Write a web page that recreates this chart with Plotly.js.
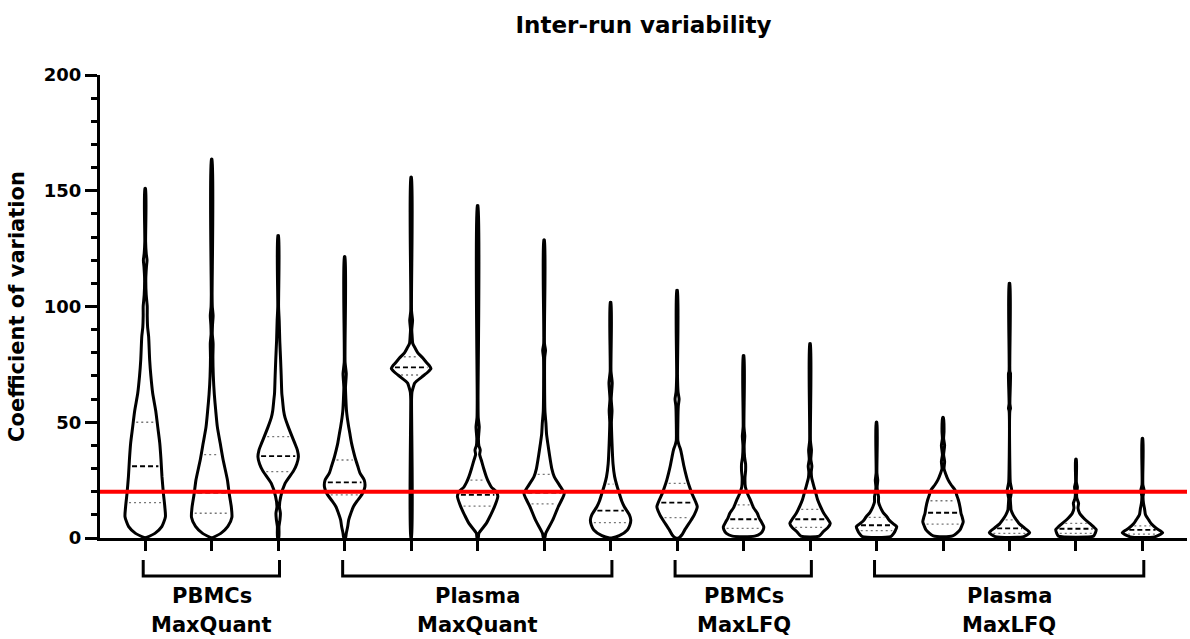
<!DOCTYPE html>
<html><head><meta charset="utf-8">
<script src="https://cdn.plot.ly/plotly-3.0.1.min.js"></script>
<style>html,body{margin:0;padding:0;background:#fff}#chart{width:1190px;height:639px}</style>
</head><body><div id="chart"></div>
<script>
// ---------- data ----------
const groupLine1 = ['PBMCs', 'Plasma', 'PBMCs', 'Plasma'];
const groupLine2 = ['MaxQuant', 'MaxQuant', 'MaxLFQ', 'MaxLFQ'];
const groupStart = [0, 3, 8, 11];
const groupEnd = [2, 7, 10, 15];
const thresholdCV = 20;

const cvMax    = [151, 163.6, 130.6, 121.5, 155.8, 143.6, 128.7, 101.8, 107, 78.8, 84, 50, 52, 110, 34, 43];
const cvQ1     = [15.3, 10.7, 28.7, 18.6, 70.4, 13.8, 14.7, 6.6, 8.8, 4.2, 4.6, 3.2, 6.0, 2.0, 2.0, 1.7];
const cvMedian = [31.0, 19.6, 35.4, 24.0, 73.7, 18.6, 19.6, 11.8, 15.3, 8.1, 8.1, 5.5, 10.9, 4.2, 4.0, 3.5];
const cvQ3     = [50.0, 36.0, 43.8, 33.7, 78.3, 25.0, 27.5, 23.3, 23.6, 14.3, 12.4, 8.9, 16.1, 7.8, 6.3, 5.2];

// density profile of each violin: CV levels and relative density (1 = widest)
const profileLevels = [
  [0,2,4.9,9.2,13.5,19.3,26.5,34,41,48,55,62.5,70,77,87,91,96,100,105,112,117,120,123,128],
  [0,2,5,9,13.5,19,25,34,41,48,55,62,70,78,84,88,92,96,100,105],
  [0,5,8,10.7,13.5,18,23.6,29,32,35,38,41,44,48,52,55,60,62.5,70,77,85,94,100],
  [0,2,5,7.8,10,13.5,16,19,22,25,28,31,34,38,41,45,48,52,55,60,65,71,76],
  [0,60,63,65,67,69.5,71.7,73.2,74.5,75.6,77.7,80,82,84,87,90,94,98],
  [0,2,6.3,10,12,15,18,20,22,24,26.5,30,33.7,36,38,40,43,48,52,60],
  [0,2,7.8,13.5,17,19.3,22,26.5,30,34,38,41,45,49.5,55,78,81,84],
  [0,1,3.5,5.5,7.8,10,13.5,16,19.3,23,26.5,32,41,50,55,60,67,72],
  [0,1.5,3.5,7.8,10,13.5,16,19.3,22,25,28,31,35,38,40,42,50,57,60,63,70],
  [0.8,2,3.5,4.9,7,8.5,10.7,13,16.4,19,22,26,29,32,35,40,44,48],
  [0.8,2.7,4.5,6.3,8.1,10.7,13.5,16.4,19.5,22,26,28.5,31,34,38,42],
  [0.6,2,3.2,4.9,6,7.5,9.2,11,13.5,15.5,17.9,20,22,25,28],
  [0.9,3.5,5,7,9,10.7,13,16.4,18.5,20.7,23,25,28,30,33,36,40,43,46],
  [0.6,2.3,4.2,6,7.8,10,12,14,17,20.7,24,30,55,56,58,71,72],
  [0.8,2,3.7,5,6.3,8,10.7,13,15,17,19,22,24],
  [0.5,2.3,4.2,6,7.8,10,12.8,15,18,20.7,23]
];
const profileDensity = [
  [0,0.48,0.82,1.0,0.97,0.9,0.83,0.78,0.72,0.62,0.52,0.37,0.28,0.22,0.17,0.12,0.1,0.1,0.05,0.03,0.06,0.09,0.05,0.02],
  [0,0.45,0.8,1.0,0.97,0.87,0.78,0.56,0.42,0.28,0.2,0.13,0.08,0.06,0.07,0.03,0.04,0.07,0.03,0.02],
  [0.03,0.04,0.09,0.11,0.06,0.13,0.34,0.76,0.92,1.0,0.95,0.82,0.68,0.5,0.34,0.27,0.21,0.18,0.15,0.12,0.08,0.05,0.02],
  [0.04,0.08,0.15,0.2,0.28,0.43,0.62,0.87,1.0,0.97,0.76,0.65,0.54,0.42,0.34,0.26,0.2,0.13,0.09,0.06,0.04,0.08,0.02],
  [0.02,0.02,0.04,0.1,0.18,0.52,0.83,0.98,0.9,0.78,0.58,0.33,0.2,0.08,0.05,0.03,0.07,0.02],
  [0.03,0.06,0.43,0.65,0.76,0.9,1.0,0.92,0.68,0.55,0.43,0.3,0.18,0.1,0.13,0.06,0.04,0.08,0.03,0.02],
  [0.03,0.08,0.43,0.7,0.9,1.0,0.82,0.5,0.38,0.3,0.23,0.18,0.12,0.09,0.04,0.03,0.07,0.02],
  [0.05,0.43,0.83,0.95,1.0,0.93,0.68,0.55,0.43,0.3,0.2,0.12,0.07,0.04,0.07,0.03,0.08,0.02],
  [0.08,0.25,0.38,0.7,0.85,1.0,0.9,0.73,0.62,0.51,0.42,0.34,0.25,0.18,0.1,0.04,0.04,0.06,0.1,0.05,0.02],
  [0.55,0.85,0.97,1.0,0.88,0.78,0.68,0.5,0.34,0.2,0.09,0.07,0.1,0.1,0.05,0.03,0.06,0.02],
  [0.45,0.65,0.88,1.0,0.88,0.68,0.52,0.38,0.28,0.2,0.08,0.06,0.09,0.04,0.07,0.02],
  [0.7,0.85,0.93,1.0,0.85,0.65,0.51,0.33,0.18,0.1,0.1,0.05,0.03,0.06,0.02],
  [0.48,0.84,0.92,1.0,0.95,0.89,0.85,0.76,0.68,0.6,0.4,0.26,0.12,0.05,0.08,0.03,0.08,0.03,0.05],
  [0.7,1.0,0.76,0.5,0.34,0.18,0.08,0.06,0.04,0.11,0.04,0.02,0.02,0.05,0.02,0.05,0.02],
  [0.87,0.95,1.0,0.85,0.68,0.45,0.18,0.1,0.13,0.05,0.03,0.07,0.02],
  [0.6,1.0,0.68,0.45,0.31,0.15,0.1,0.05,0.03,0.08,0.02]
];

// ---------- drawing ----------
const FONT = 'DejaVu Sans';
const HALF_W = 0.304;      // widest half-width in category units
const TOP_DENS = 0.02;     // density of the thin whisker at the maximum
const nViolins = cvMax.length;

function densAt(lv, dn, v) {
  if (v <= lv[0]) return dn[0];
  for (let k = 1; k < lv.length; k++) {
    if (v <= lv[k]) {
      const t = (v - lv[k-1]) / (lv[k] - lv[k-1]);
      return dn[k-1] + t * (dn[k] - dn[k-1]);
    }
  }
  return dn[dn.length-1];
}

const traces = [];
for (let i = 0; i < nViolins; i++) {
  const lv = profileLevels[i].concat([cvMax[i]]);
  const dn = profileDensity[i].concat([TOP_DENS]);
  const xs = [], ys = [];
  for (let k = 0; k < lv.length; k++) { xs.push(i + dn[k]*HALF_W); ys.push(lv[k]); }
  for (let k = lv.length-1; k >= 0; k--) { xs.push(i - dn[k]*HALF_W); ys.push(lv[k]); }
  xs.push(xs[0]); ys.push(ys[0]);
  traces.push({
    type: 'scatter', mode: 'lines', x: xs, y: ys,
    fill: 'toself', fillcolor: '#ffffff',
    line: {color: '#000000', width: 3, shape: 'spline', smoothing: 0.6},
    hoverinfo: 'skip', showlegend: false
  });
}

function statLines(vals) {
  const xs = [], ys = [];
  for (let i = 0; i < nViolins; i++) {
    const lv = profileLevels[i].concat([cvMax[i]]);
    const dn = profileDensity[i].concat([TOP_DENS]);
    const hw = Math.max(densAt(lv, dn, vals[i]) * HALF_W - 0.045, 0.01);
    xs.push(i - hw, i + hw, null);
    ys.push(vals[i], vals[i], null);
  }
  return {xs, ys};
}
const q1L = statLines(cvQ1), q3L = statLines(cvQ3), medL = statLines(cvMedian);
traces.push({type:'scatter', mode:'lines', x:q1L.xs, y:q1L.ys, line:{color:'#777', width:1.3, dash:'2px,3px'}, hoverinfo:'skip', showlegend:false});
traces.push({type:'scatter', mode:'lines', x:q3L.xs, y:q3L.ys, line:{color:'#777', width:1.3, dash:'2px,3px'}, hoverinfo:'skip', showlegend:false});
traces.push({type:'scatter', mode:'lines', x:medL.xs, y:medL.ys, line:{color:'#000', width:1.8, dash:'5px,3px'}, hoverinfo:'skip', showlegend:false});

// pixel helpers for elements below the plot (plot spans y 75..538)
const PLOT_TOP = 75, PLOT_BOTTOM = 538, PLOT_H = PLOT_BOTTOM - PLOT_TOP;
const py = px => (PLOT_BOTTOM - px) / PLOT_H;

const shapes = [{
  type: 'line', xref: 'paper', x0: 0, x1: 1, yref: 'y', y0: thresholdCV, y1: thresholdCV,
  line: {color: '#ff0000', width: 4}, layer: 'above'
}];
const annotations = [];
for (let g = 0; g < groupStart.length; g++) {
  const a = groupStart[g] - 0.03, b = groupEnd[g] + 0.02;
  shapes.push({
    type: 'path', xref: 'x', yref: 'paper',
    path: `M ${a},${py(560)} L ${a},${py(576)} L ${b},${py(576)} L ${b},${py(560)}`,
    line: {color: '#000', width: 3}
  });
  const cx = (groupStart[g] + groupEnd[g]) / 2;
  annotations.push({x: cx, xref: 'x', y: py(596), yref: 'paper', yanchor: 'middle', showarrow: false,
    text: groupLine1[g], font: {family: FONT, size: 21, color: '#000', weight: 'bold'}});
  annotations.push({x: cx, xref: 'x', y: py(625), yref: 'paper', yanchor: 'middle', showarrow: false,
    text: groupLine2[g], font: {family: FONT, size: 21, color: '#000', weight: 'bold'}});
}

const tickIdx = [];
for (let i = 0; i < nViolins; i++) tickIdx.push(i);

const layout = {
  width: 1190, height: 639,
  margin: {l: 100, r: 3, t: PLOT_TOP, b: 639 - PLOT_BOTTOM, pad: 0},
  paper_bgcolor: '#fff', plot_bgcolor: '#fff',
  title: {text: 'Inter-run variability', x: 0.5, xref: 'paper', xanchor: 'center',
          y: 1 - 25/639, yref: 'container', yanchor: 'middle',
          font: {family: FONT, size: 23, color: '#000', weight: 'bold'}},
  showlegend: false,
  xaxis: {range: [-0.68, 15.67], showgrid: false, zeroline: false, showline: true,
          linecolor: '#000', linewidth: 3, ticks: 'outside', tickmode: 'array', tickvals: tickIdx,
          ticklen: 10, tickwidth: 3, tickcolor: '#000', showticklabels: false, fixedrange: true},
  yaxis: {range: [0, 200], showgrid: false, zeroline: false, showline: true,
          linecolor: '#000', linewidth: 3, ticks: 'outside', tickmode: 'array',
          tickvals: [0, 50, 100, 150, 200], ticklen: 12, tickwidth: 3, tickcolor: '#000',
          tickfont: {family: FONT, size: 18, color: '#000', weight: 'bold'},
          minor: {dtick: 10, tick0: 0, ticks: 'outside', ticklen: 6, tickwidth: 3, tickcolor: '#000', showgrid: false},
          title: {text: 'Coefficient of variation', standoff: 14,
                  font: {family: FONT, size: 21, color: '#000', weight: 'bold'}},
          fixedrange: true},
  shapes: shapes,
  annotations: annotations
};

Plotly.newPlot('chart', traces, layout, {staticPlot: true, displayModeBar: false});
</script>
</body></html>
